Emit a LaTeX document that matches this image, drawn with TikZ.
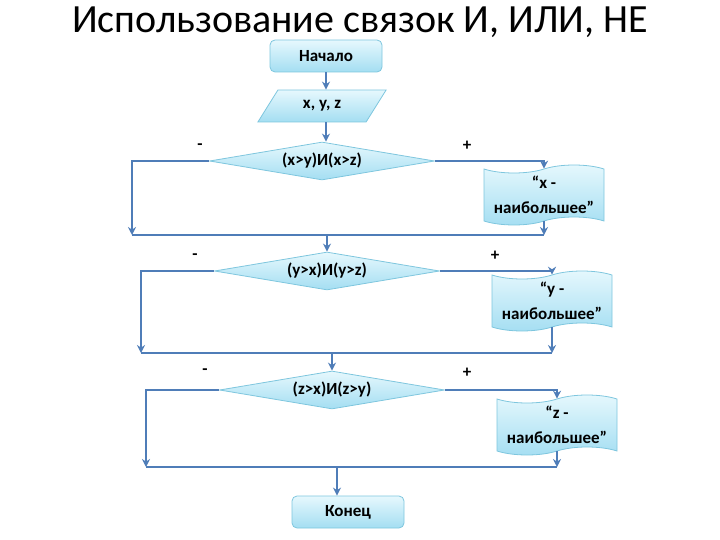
\documentclass[tikz,border=0pt]{standalone}
\usepackage{fontspec}
\setmainfont{Carlito}
\usetikzlibrary{shapes.geometric,shapes.symbols,arrows.meta}

\definecolor{boxtop}{HTML}{E6F8FD}
\definecolor{boxbot}{HTML}{A4DEF2}
\definecolor{boxline}{HTML}{7EC6DE}
\definecolor{flow}{HTML}{4F7DB8}

\begin{document}
\begin{tikzpicture}[
    x=1pt, y=-1pt,
    every node/.style={font=\fontsize{17}{25}\selectfont\bfseries},
    block/.style={draw=boxline, line width=0.8pt,
                  top color=boxtop, bottom color=boxbot},
    terminal/.style={block, rounded corners=5pt,
                     minimum width=112pt, minimum height=32pt},
    io/.style={block, trapezium, trapezium left angle=60,
               trapezium right angle=120, trapezium stretches=true,
               minimum width=129pt, minimum height=32pt},
    test/.style={block, diamond, aspect=6, inner sep=0pt,
                 minimum width=225pt, minimum height=38pt},
    message/.style={block, tape, tape bend height=8pt, align=center,
                    inner sep=1pt, minimum width=120pt, minimum height=60pt},
    sign/.style={font=\fontsize{17}{18}\selectfont\bfseries},
    arr/.style={draw=flow, line width=2.8pt,
                -{Stealth[length=8pt,width=8pt]}},
    line/.style={draw=flow, line width=2.8pt},
]
\useasboundingbox (0,0) rectangle (720,540);

\node [font=\fontsize{40}{44}\selectfont, inner sep=1pt] (title) at (360,22)
      {Использование связок И, ИЛИ, НЕ};

% blocks
\node [terminal] (start) at (326,56) {Начало};
\node [io] (input) at (322,106) {x, y, z};
\node [test] (cond1) at (322,161) {(x>y)И(x>z)};
\node [message] (out1) at (544,195) {“x -\\наибольшее”};
\node [test] (cond2) at (327,271) {(y>x)И(y>z)};
\node [message] (out2) at (552,301) {“y -\\наибольшее”};
\node [test] (cond3) at (332,390) {(z>x)И(z>y)};
\node [message] (out3) at (557,425) {“z -\\наибольшее”};
\node [terminal] (stop) at (348,512) {Конец};

% branch signs
\node [sign] (no1) at (200,147) {-};
\node [sign] (yes1) at (467,146) {+};
\node [sign] (no2) at (195,257) {-};
\node [sign] (yes2) at (495,256) {+};
\node [sign] (no3) at (205,372) {-};
\node [sign] (yes3) at (467,373) {+};

% joins
\coordinate (left1) at (132,235);
\coordinate (left2) at (141,353);
\coordinate (left3) at (146,467);
\coordinate (mid3) at (337,467);

% connectors
\draw [arr] (start) -- (start |- input.north);
\draw [arr] (start |- input.south) -- (start |- cond1.north);

\draw [arr] (cond1.west) -| (left1);
\draw [arr] (cond1.east) -| (out1.north);
\draw [arr] (out1.south) -- (out1.south |- left1);
\draw [line] (left1) -- (out1.south |- left1);
\draw [arr] (cond2.north |- left1) -- (cond2.north);

\draw [arr] (cond2.west) -| (left2);
\draw [arr] (cond2.east) -| (out2.north);
\draw [arr] (out2.south) -- (out2.south |- left2);
\draw [line] (left2) -- (out2.south |- left2);
\draw [arr] (cond3.north |- left2) -- (cond3.north);

\draw [arr] (cond3.west) -| (left3);
\draw [arr] (cond3.east) -| (out3.north);
\draw [arr] (out3.south) -- (out3.south |- left3);
\draw [line] (left3) -- (out3.south |- left3);
\draw [arr] (mid3) -- (mid3 |- stop.north);

\end{tikzpicture}
\end{document}
